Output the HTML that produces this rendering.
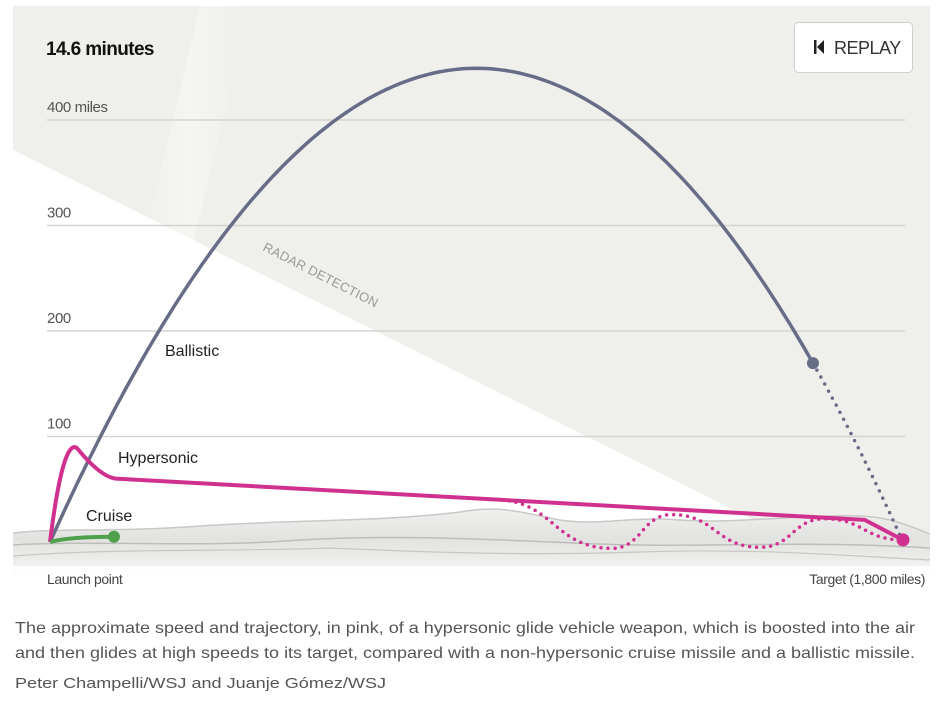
<!DOCTYPE html>
<html><head><meta charset="utf-8"><style>
html,body{margin:0;padding:0;background:#fff;}
svg{display:block;font-family:"Liberation Sans",sans-serif;}
</style></head><body>
<svg id="chart" width="936" height="701" viewBox="0 0 936 701" xmlns="http://www.w3.org/2000/svg">
<defs>
<linearGradient id="ground" x1="0" y1="0" x2="0" y2="1">
<stop offset="0" stop-color="#f0f0ee"/><stop offset="0.45" stop-color="#e2e2e0"/><stop offset="0.75" stop-color="#ececea"/><stop offset="1" stop-color="#fafafa"/>
</linearGradient>
<linearGradient id="shine" x1="0" y1="0" x2="1" y2="0">
<stop offset="0" stop-color="#f6f6f2" stop-opacity="0"/><stop offset="0.5" stop-color="#fbfbf8"/><stop offset="1" stop-color="#f6f6f2" stop-opacity="0"/>
</linearGradient>
</defs>
<rect x="13" y="6" width="917" height="570" fill="#efefeb"/>
<polygon points="200,6 250,6 180,300 130,300" fill="url(#shine)" opacity="0.5"/>
<polygon points="13,150 930,608 930,576 13,576" fill="#ffffff"/>
<text x="262" y="250" transform="rotate(27 262 250)" font-size="13" fill="#9a9a9a" letter-spacing="0.2">RADAR DETECTION</text>
<g id="grid"></g>
<g id="terrain">
<path d="M13,533 C60,528 120,532 200,526 C280,520 380,522 460,512 C500,505 520,512 560,520 C600,526 630,516 680,520 C740,524 800,514 860,516 C890,517 910,526 930,534 L930,576 L13,576 Z" fill="url(#ground)"/>
<path d="M13,533 C60,528 120,532 200,526 C280,520 380,522 460,512 C500,505 520,512 560,520 C600,526 630,516 680,520 C740,524 800,514 860,516 C890,517 910,526 930,534" fill="none" stroke="#c8c8c6" stroke-width="1.5"/>
<path d="M13,545 C100,540 200,548 300,540 C400,534 500,540 600,544 C700,548 800,540 930,548" fill="none" stroke="#bdbdbb" stroke-width="1.5"/>
<path d="M13,556 C120,548 220,552 330,548 C420,552 520,556 640,552 C760,548 850,556 930,560" fill="none" stroke="#c6c6c4" stroke-width="1.2"/>
<rect x="13" y="566" width="917" height="10" fill="#ffffff" opacity="0.8"/>
</g>
<g id="series"></g>
<text x="46" y="55" font-size="19" font-weight="bold" fill="#111" letter-spacing="-0.6">14.6 minutes</text>
<g>
<rect x="794.5" y="22.5" width="118" height="50" rx="4" fill="#fff" stroke="#cfcfcf"/>
<rect x="814" y="40" width="2.5" height="14" fill="#222"/>
<polygon points="824,40 824,54 817,47" fill="#222"/>
<text x="834" y="54" font-size="18" fill="#333" letter-spacing="-0.5">REPLAY</text>
</g>
<text x="165" y="356" font-size="16" fill="#222">Ballistic</text>
<text x="118" y="463" font-size="16" fill="#222">Hypersonic</text>
<text x="86" y="521" font-size="16" fill="#222">Cruise</text>
<text x="47" y="584" font-size="14" fill="#444" letter-spacing="-0.4">Launch point</text>
<text x="925" y="584" font-size="14" fill="#444" text-anchor="end" letter-spacing="-0.4">Target (1,800 miles)</text>
<text x="15" y="633" font-size="16" fill="#555" textLength="900" lengthAdjust="spacingAndGlyphs">The approximate speed and trajectory, in pink, of a hypersonic glide vehicle weapon, which is boosted into the air</text>
<text x="15" y="658" font-size="16" fill="#555" textLength="900" lengthAdjust="spacingAndGlyphs">and then glides at high speeds to its target, compared with a non-hypersonic cruise missile and a ballistic missile.</text>
<text x="15" y="688" font-size="15" fill="#555" textLength="371" lengthAdjust="spacingAndGlyphs">Peter Champelli/WSJ and Juanje Gómez/WSJ</text>
</svg>
<script>
const yTicks=[100,200,300,400];
const yTickLabels=["100","200","300","400 miles"];
const ballisticPeak=449;
const ballisticSolidEnd=1610;
const targetDistance=1800;
const hyperX=[0,57,143,1719,1800];
const hyperY=[0,89,60,21,2];
const hyperDotX=[939,1186,1312,1498,1635,1800];
const hyperDotY=[40,-6,26,-5,22,2];
const cruiseX=[0,135];
const cruiseY=[0,5];

const NS="http://www.w3.org/2000/svg";
const x=d=>50+d*(853/1800);
const y=a=>542-a*1.055;
function mk(tag,attrs,parent){const e=document.createElementNS(NS,tag);for(const k in attrs)e.setAttribute(k,attrs[k]);parent.appendChild(e);return e;}
const grid=document.getElementById('grid');
yTicks.forEach((t,i)=>{
  const l=mk('line',{x1:47,x2:905,y1:y(t),y2:y(t),stroke:'#d3d3d0','stroke-width':1.5},grid);
  
  
  const tx=mk('text',{x:47,y:y(t)-8,'font-size':15,fill:'#555','letter-spacing':'-0.4'},grid);
  tx.textContent=yTickLabels[i];
  
  
});
const s=document.getElementById('series');
const ballAlt=d=>{const m=targetDistance/2;const u=(d-m)/m;return ballisticPeak*(1-u*u);};
let p='';for(let d=0;d<=ballisticSolidEnd;d+=10){p+=(d?'L':'M')+x(d).toFixed(1)+','+y(ballAlt(d)).toFixed(1);}
const b=mk('path',{d:p,fill:'none',stroke:'#676d86','stroke-width':3.5},s);


let p2='';for(let d=ballisticSolidEnd;d<=targetDistance;d+=5){p2+=(d>ballisticSolidEnd?'L':'M')+x(d).toFixed(1)+','+y(Math.max(ballAlt(d),0)).toFixed(1);}
const bd=mk('path',{d:p2,fill:'none',stroke:'#676d86','stroke-width':3.5,'stroke-dasharray':'0 8','stroke-linecap':'round'},s);


function smooth(X,Y){let d='M'+x(X[0])+','+y(Y[0]);for(let i=1;i<X.length;i++){const x0=x(X[i-1]),x1=x(X[i]),y0=y(Y[i-1]),y1=y(Y[i]);const mx=(x0+x1)/2;d+=' C'+mx+','+y0+' '+mx+','+y1+' '+x1+','+y1;}return d;}
const hd=mk('path',{d:smooth(hyperDotX,hyperDotY),fill:'none',stroke:'#d0318f','stroke-width':3.5,'stroke-dasharray':'0 7','stroke-linecap':'round'},s);


let hp='M'+x(hyperX[0])+','+y(hyperY[0])+' Q'+(x(hyperX[1])-14)+','+y(hyperY[1]+10)+' '+x(hyperX[1])+','+y(hyperY[1])+' Q'+(x(hyperX[1])+25)+','+y(hyperY[2])+' '+x(hyperX[2])+','+y(hyperY[2]);
for(let i=3;i<hyperX.length;i++)hp+=' L'+x(hyperX[i])+','+y(hyperY[i]);
const h=mk('path',{d:hp,fill:'none',stroke:'#d0318f','stroke-width':4,'stroke-linejoin':'round'},s);


const c=mk('path',{d:'M'+x(cruiseX[0])+','+y(cruiseY[0])+' Q'+x(cruiseX[1]*0.3)+','+y(cruiseY[1])+' '+x(cruiseX[1])+','+y(cruiseY[1]),fill:'none',stroke:'#4ea04a','stroke-width':4},s);


const cd=mk('circle',{cx:x(cruiseX[1]),cy:y(cruiseY[1]),r:6,fill:'#4ea04a'},s);


const bm=mk('circle',{cx:x(ballisticSolidEnd),cy:y(ballAlt(ballisticSolidEnd)),r:6,fill:'#676d86'},s);


const hm=mk('circle',{cx:x(hyperX[hyperX.length-1]),cy:y(hyperY[hyperY.length-1]),r:6.5,fill:'#d0318f'},s);


</script>
</body></html>
